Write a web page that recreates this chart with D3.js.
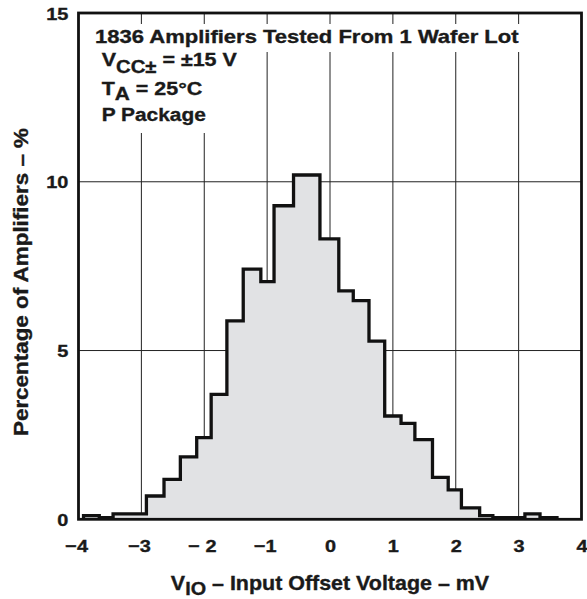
<!DOCTYPE html>
<html>
<head>
<meta charset="utf-8">
<script src="https://cdn.jsdelivr.net/npm/d3@7"></script>
<style>
  body { margin: 0; background: #fff; }
  svg text { font-family: "Liberation Sans", Arial, Helvetica, sans-serif; font-weight: bold; fill: #1a1a1a; stroke: #1a1a1a; stroke-width: 0.35px; }
</style>
</head>
<body>
<svg id="chart" width="587" height="599"></svg>
<script>
// bin edges (mV) and percentage of amplifiers in each bin
const binEdges = [-3.92, -3.67, -3.45, -2.92, -2.64, -2.38, -2.12, -1.89, -1.64, -1.38, -1.10, -0.89, -0.58,
                  -0.16, 0.14, 0.37, 0.62, 0.87, 1.13, 1.35, 1.63, 1.88, 2.09, 2.38, 2.59, 3.10, 3.34, 3.61];
const binPct = [0.11, 0.05, 0.16, 0.69, 1.18, 1.85, 2.42, 3.70, 5.88, 7.41, 7.04, 9.29, 10.2,
                8.31, 6.77, 6.48, 5.28, 3.06, 2.84, 2.36, 1.24, 0.87, 0.34, 0.11, 0.05, 0.16, 0.05];

const xTicks = [-4, -3, -2, -1, 0, 1, 2, 3, 4];
const xTickLabels = ["\u22124", "\u22123", "\u2212 2", "\u22121", "0", "1", "2", "3", "4"];
const yTicks = [0, 5, 10, 15];
const xGrid = [-3, -2, -1, 0, 1, 2, 3];
const yGrid = [5, 10];

const svg = d3.select("#chart");
const stretch = 1.17; // the original lettering is wider than Arial

const x = d3.scaleLinear().domain([-4, 4]).range([78.5, 581.5]);
const y = d3.scaleLinear().domain([0, 15]).range([519.3, 13]);

// grid
svg.append("g").selectAll("line").data(xGrid).join("line")
    .attr("x1", d => x(d)).attr("x2", d => x(d))
    .attr("y1", y(15)).attr("y2", y(0))
    .attr("stroke", "#222").attr("stroke-width", 1);
svg.append("g").selectAll("line").data(yGrid).join("line")
    .attr("x1", x(-4)).attr("x2", x(4))
    .attr("y1", d => y(d)).attr("y2", d => y(d))
    .attr("stroke", "#222").attr("stroke-width", 1);

// white box behind the note text
svg.append("rect").attr("x", 90).attr("y", 24).attr("width", 437).attr("height", 28).attr("fill", "#fff");
svg.append("rect").attr("x", 90).attr("y", 52).attr("width", 170).attr("height", 81).attr("fill", "#fff");

// histogram
const pts = binPct.map((v, i) => [binEdges[i], v]);
pts.push([binEdges[binEdges.length - 1], binPct[binPct.length - 1]]);

const area = d3.area()
    .x(d => x(d[0]))
    .y0(y(0))
    .y1(d => y(d[1]))
    .curve(d3.curveStepAfter);

svg.append("path")
    .datum(pts)
    .attr("d", area)
    .attr("fill", "#e1e2e4");

const outline = [[binEdges[0], 0], ...pts, [binEdges[binEdges.length - 1], 0]];
const line = d3.line()
    .x(d => x(d[0]))
    .y(d => y(d[1]))
    .curve(d3.curveStepAfter);

svg.append("path")
    .datum(outline)
    .attr("d", line)
    .attr("fill", "none")
    .attr("stroke", "#111")
    .attr("stroke-width", 3.3)
    .attr("stroke-linejoin", "miter");

// frame
svg.append("rect")
    .attr("x", x(-4)).attr("y", y(15))
    .attr("width", x(4) - x(-4)).attr("height", y(0) - y(15))
    .attr("fill", "none").attr("stroke", "#111").attr("stroke-width", 2.8);

// axes (labels only)
const xAxis = d3.axisBottom(x)
    .tickValues(xTicks)
    .tickFormat((d, i) => xTickLabels[i])
    .tickSize(0);

const gx = svg.append("g")
    .attr("transform", `translate(0,${y(0)})`)
    .call(xAxis);
gx.select(".domain").remove();
gx.selectAll("text")
    .attr("y", 32.4)
    .attr("dy", 0)
    .attr("dx", d => d < 0 ? -2 : 0)
    .attr("transform", `scale(${stretch},1)`)
    .attr("fill", "#1a1a1a")
    .style("font-size", "17px");

const yAxis = d3.axisLeft(y)
    .tickValues(yTicks)
    .tickSize(0);

const gy = svg.append("g")
    .attr("transform", `translate(${x(-4)},0)`)
    .call(yAxis);
gy.select(".domain").remove();
gy.selectAll("text")
    .attr("x", -10.2 / stretch)
    .attr("dy", 6)
    .attr("transform", `scale(${stretch},1)`)
    .attr("fill", "#1a1a1a")
    .style("font-size", "17px");

// note block
function stretched(px, py, sx) {
    return svg.append("g").attr("transform", `translate(${px},${py}) scale(${sx},1)`);
}

stretched(95, 42.7, 1.19).append("text")
    .style("font-size", "18.5px")
    .text("1836 Amplifiers Tested From 1 Wafer Lot");

const l2 = stretched(101.7, 66, 1.16).append("text").style("font-size", "18.5px");
l2.append("tspan").text("V");
l2.append("tspan").attr("dy", 6.5).style("font-size", "17.5px").text("CC\u00b1");
l2.append("tspan").attr("dy", -6.5).text(" = \u00b115 V");

const l3 = stretched(101.7, 95, 1.16).append("text").style("font-size", "18.5px");
l3.append("tspan").text("T");
l3.append("tspan").attr("dy", 4.5).style("font-size", "18px").text("A");
l3.append("tspan").attr("dy", -4.5).text(" = 25\u00b0C");

stretched(101.7, 120.7, 1.13).append("text")
    .style("font-size", "18.5px")
    .text("P Package");

// axis titles
const xt = svg.append("g")
    .attr("transform", `translate(${(x(-4) + x(4)) / 2},590) scale(1.1,1)`)
    .append("text")
    .attr("text-anchor", "middle")
    .style("font-size", "19.5px");
xt.append("tspan").text("V");
xt.append("tspan").attr("dy", 5).style("font-size", "18px").text("IO");
xt.append("tspan").attr("dy", -5).text(" \u2013 Input Offset Voltage \u2013 mV");

svg.append("g")
    .attr("transform", `translate(28,282) rotate(-90) scale(1.15,1)`)
    .append("text")
    .attr("text-anchor", "middle")
    .style("font-size", "19.5px")
    .text("Percentage of Amplifiers \u2013 %");
</script>
</body>
</html>
